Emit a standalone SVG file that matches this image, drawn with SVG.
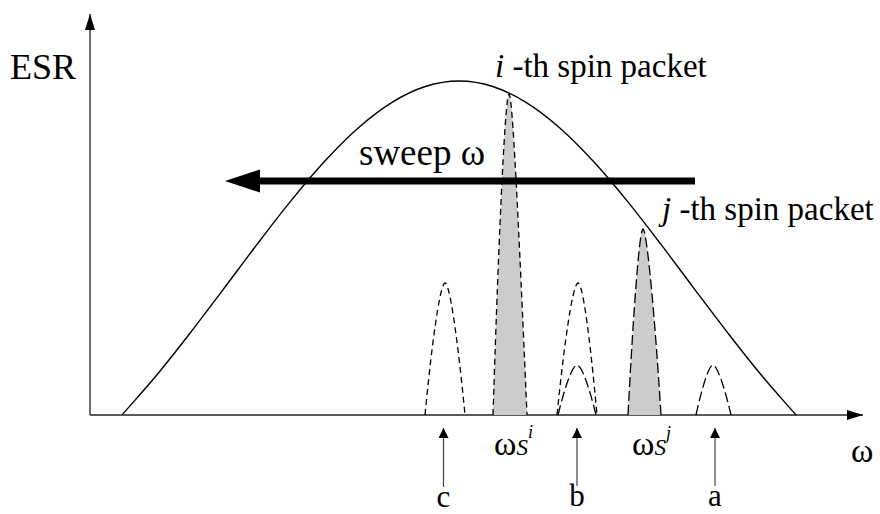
<svg xmlns="http://www.w3.org/2000/svg" width="880" height="514" viewBox="0 0 880 514">
<defs>
<style>
.t{font-family:'Liberation Serif','Times New Roman',serif;fill:#000}
.ax{stroke:#222;stroke-width:1.3;fill:none}
.up{stroke:#444;stroke-width:1.2;fill:none}
.sd{stroke:#000;stroke-width:1.3;stroke-dasharray:6 4}
.ld{stroke:#000;stroke-width:1.3;stroke-dasharray:10 4}
.open{fill:none}
.fill{fill:#cccccc}
</style>
<marker id="ah" viewBox="0 0 10 10" refX="10" refY="5" markerWidth="10" markerHeight="10" markerUnits="userSpaceOnUse" orient="auto">
<path d="M0,0 L10,5 L0,10 Z" fill="#000"/>
</marker>
<marker id="ahs" viewBox="0 0 16 10" refX="16" refY="5" markerWidth="16" markerHeight="10" markerUnits="userSpaceOnUse" orient="auto">
<path d="M0,0 L16,5 L0,10 Z" fill="#000"/>
</marker>
</defs>
<rect width="880" height="514" fill="#fff"/>

<g id="axes">
<line class="ax" x1="90" y1="415" x2="90" y2="14" marker-end="url(#ahs)"/>
<line class="ax" x1="90" y1="415" x2="863" y2="415" marker-end="url(#ahs)"/>
<text class="t" x="10" y="79" font-size="36">ESR</text>
<text class="t" x="851" y="462" font-size="34">ω</text>
</g>

<g id="envelope">
<path fill="none" stroke="#000" stroke-width="1.4" d="M122,415 C133.23,402.1 144.47,389.8 155.7,376.3 C166.93,362.8 178.17,348.45 189.4,334 C200.63,319.55 211.87,304.48 223.1,289.6 C234.33,274.72 245.57,259.4 256.8,244.7 C268.03,230 279.27,215.22 290.5,201.4 C301.73,187.58 312.97,174 324.2,161.8 C335.43,149.6 346.67,138.07 357.9,128.2 C369.13,118.33 380.37,109.55 391.6,102.6 C402.83,95.65 414.07,90.1 425.3,86.5 C436.53,82.9 447.77,81 459,81 C470.23,81 481.47,82.9 492.7,86.5 C503.93,90.1 515.17,95.65 526.4,102.6 C537.63,109.55 548.87,118.33 560.1,128.2 C571.33,138.07 582.57,149.6 593.8,161.8 C605.03,174 616.27,187.58 627.5,201.4 C638.73,215.22 649.97,230 661.2,244.7 C672.43,259.4 683.67,274.72 694.9,289.6 C706.13,304.48 717.37,319.55 728.6,334 C739.83,348.45 751.07,362.8 762.3,376.3 C773.53,389.8 784.77,402.1 796,415"/>
</g>

<g id="packet-c">
<path class="sd open" d="M425,415 C433,332 440.6,283 445,283 C449.4,283 457,332 465,415"/>
</g>
<g id="packet-i">
<path class="sd fill" d="M493,415 C499.4,214 505.5,94 509,94 C512.5,94 518.2,214 527,415"/>
<text class="t" x="495" y="77" font-size="33"><tspan font-style="italic">i</tspan> -th spin packet</text>
</g>
<g id="packet-b">
<path class="sd open" d="M557,415 C565.4,332 573.4,283 578,283 C582.6,283 589.4,332 597,415"/>
<path class="ld open" d="M558,415 C565.6,384 572.8,365 577,365 C581.2,365 588.4,384 596,415"/>
</g>
<g id="packet-j">
<path class="ld fill" d="M628,415 C634,300 639.7,229 643,229 C646.3,229 653.8,300 661,415"/>
<text class="t" x="662" y="220" font-size="33"><tspan font-style="italic">j</tspan> -th spin packet</text>
</g>
<g id="packet-a">
<path class="ld open" d="M696,415 C702.8,384 709.3,365 713,365 C716.7,365 723.8,384 731,415"/>
</g>

<g id="sweep">
<line x1="695" y1="181" x2="255" y2="181" stroke="#000" stroke-width="7"/>
<polygon points="225,181 260,169.5 260,192.5" fill="#000"/>
<text class="t" x="359" y="165" font-size="37">sweep ω</text>
</g>

<g id="connectors">
<line class="up" x1="443.5" y1="487" x2="443.5" y2="428" marker-end="url(#ah)"/>
<line class="up" x1="577" y1="486" x2="577" y2="428" marker-end="url(#ah)"/>
<line class="up" x1="715" y1="486" x2="715" y2="428" marker-end="url(#ah)"/>
</g>

<g id="labels">
<text class="t" x="443.5" y="507" font-size="31" text-anchor="middle">c</text>
<text class="t" x="577" y="506" font-size="31" text-anchor="middle">b</text>
<text class="t" x="715" y="506" font-size="31" text-anchor="middle">a</text>
<text class="t" x="494" y="455" font-size="34">ω<tspan font-style="italic" font-size="23">S</tspan><tspan font-style="italic" font-size="18" dx="0" dy="-17">i</tspan></text>
<text class="t" x="632" y="455" font-size="34">ω<tspan font-style="italic" font-size="23">S</tspan><tspan font-style="italic" font-size="18" dx="0" dy="-16">j</tspan></text>
</g>
</svg>
